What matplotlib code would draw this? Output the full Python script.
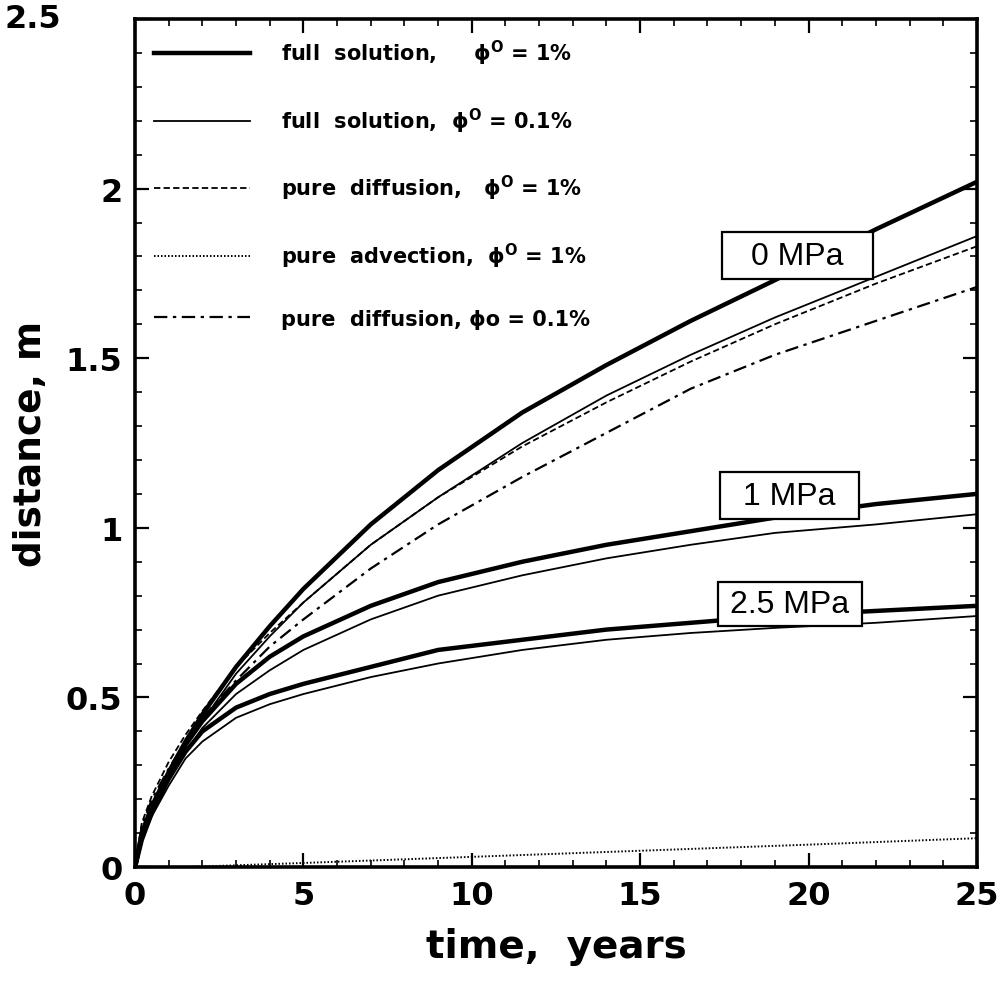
'''
Script used to plot penetration distance against time for several confining pressures
'''
import matplotlib
matplotlib.use('Agg')

import matplotlib.pyplot as plt
from matplotlib.patches import Rectangle
from matplotlib.ticker  import MultipleLocator

# ---------------------------------
# time grid shared by all curves, years
l_time      = [0, 0.2, 0.5, 1, 1.5, 2, 3, 4, 5, 7, 9, 11.5, 14, 16.5, 19, 22, 25]

# full solution, phi = 1%
l_full_0    = [0, 0.10, 0.18, 0.28, 0.37, 0.45, 0.59, 0.71, 0.82, 1.01, 1.17, 1.34, 1.48, 1.61, 1.73, 1.88, 2.02]
l_full_1    = [0, 0.09, 0.17, 0.27, 0.36, 0.43, 0.54, 0.62, 0.68, 0.77, 0.84, 0.90, 0.95, 0.99, 1.03, 1.07, 1.10]
l_full_25   = [0, 0.08, 0.16, 0.26, 0.34, 0.40, 0.47, 0.51, 0.54, 0.59, 0.64, 0.67, 0.70, 0.72, 0.74, 0.755, 0.77]

# full solution, phi = 0.1%
l_thin_0    = [0, 0.09, 0.17, 0.27, 0.36, 0.43, 0.57, 0.68, 0.78, 0.95, 1.09, 1.25, 1.39, 1.51, 1.62, 1.74, 1.86]
l_thin_1    = [0, 0.08, 0.16, 0.26, 0.34, 0.41, 0.51, 0.58, 0.64, 0.73, 0.80, 0.86, 0.91, 0.95, 0.985, 1.01, 1.04]
l_thin_25   = [0, 0.08, 0.15, 0.24, 0.32, 0.37, 0.44, 0.48, 0.51, 0.56, 0.60, 0.64, 0.67, 0.69, 0.705, 0.72, 0.74]

# pure diffusion
l_diff_1    = [0, 0.13, 0.21, 0.31, 0.39, 0.46, 0.59, 0.69, 0.78, 0.95, 1.09, 1.24, 1.37, 1.49, 1.60, 1.72, 1.83]
l_diff_01   = [0, 0.12, 0.20, 0.29, 0.37, 0.44, 0.55, 0.65, 0.73, 0.88, 1.01, 1.15, 1.28, 1.41, 1.51, 1.61, 1.71]

# pure advection
l_adv_time  = [0, 1.5, 5, 10, 15, 20, 25]
l_adv       = [0, 0.0, 0.012, 0.030, 0.048, 0.066, 0.085]

l_labels    = [
    'full  solution,     ϕ$^{\\rm O}$ = 1%',
    'full  solution,  ϕ$^{\\rm O}$ = 0.1%',
    'pure  diffusion,   ϕ$^{\\rm O}$ = 1%',
    'pure  advection,  ϕ$^{\\rm O}$ = 1%',
    'pure  diffusion, ϕo = 0.1%',
]

l_xticks    = [0, 5, 10, 15, 20, 25]
l_yticks    = [0, 0.5, 1, 1.5, 2, 2.5]
l_ytick_lab = ['0', '0.5', '1', '1.5', '2', '']

# pressure label boxes: text, x0, x1, y0, y1
l_boxes     = [
    ('0 MPa',   17.42, 21.90, 1.733, 1.872),
    ('1 MPa',   17.37, 21.50, 1.026, 1.164),
    ('2.5 MPa', 17.31, 21.59, 0.710, 0.840),
]
# ---------------------------------
def _initialize():
    plt.rcParams['font.family'] = ['DejaVu Sans']
    plt.rcParams['mathtext.fontset'] = 'custom'
    plt.rcParams['mathtext.rm'] = 'DejaVu Sans:bold'
# ---------------------------------
def _plot_curves(ax):
    thick = 3.2
    thin  = 1.3

    h_full = ax.plot(l_time, l_full_0,  color='black', lw=thick)[0]
    ax.plot(l_time, l_full_1,  color='black', lw=thick)
    ax.plot(l_time, l_full_25, color='black', lw=thick)

    h_thin = ax.plot(l_time, l_thin_0,  color='black', lw=thin)[0]
    ax.plot(l_time, l_thin_1,  color='black', lw=thin)
    ax.plot(l_time, l_thin_25, color='black', lw=thin)

    h_diff = ax.plot(l_time, l_diff_1,  color='black', lw=1.3, dashes=(3.5, 1.8))[0]
    h_adv  = ax.plot(l_adv_time, l_adv, color='black', lw=1.4, dashes=(0.8, 1.0))[0]
    h_dd   = ax.plot(l_time, l_diff_01, color='black', lw=1.6, dashes=(6, 2.5, 1.5, 2.5))[0]

    return [h_full, h_thin, h_diff, h_adv, h_dd]
# ---------------------------------
def _add_boxes(ax):
    for text, x0, x1, y0, y1 in l_boxes:
        rect = Rectangle((x0, y0), x1 - x0, y1 - y0, facecolor='white',
                         edgecolor='black', lw=1.6, zorder=5)
        ax.add_patch(rect)
        ax.text((x0 + x1) / 2, (y0 + y1) / 2, text, ha='center', va='center',
                fontsize=23, family='Liberation Sans', zorder=6)
# ---------------------------------
def _format_axes(ax):
    ax.set_xlim(0, 25)
    ax.set_ylim(0, 2.5)

    ax.set_xticks(l_xticks, [str(v) for v in l_xticks])
    ax.set_yticks(l_yticks, l_ytick_lab)
    ax.xaxis.set_minor_locator(MultipleLocator(1))
    ax.yaxis.set_minor_locator(MultipleLocator(0.1))

    ax.tick_params(which='both', direction='in', top=True, right=True,
                   labelsize=23, pad=9)
    ax.tick_params(which='major', length=10, width=1.6)
    ax.tick_params(which='minor', length=5, width=1.2)
    for lab in ax.get_xticklabels() + ax.get_yticklabels():
        lab.set_fontweight('bold')

    # top label sits off to the left in the original figure
    ax.text(-0.155, 1.0, '2.5', transform=ax.transAxes, ha='left', va='center',
            fontsize=23, fontweight='bold')

    for spine in ax.spines.values():
        spine.set_linewidth(2.6)

    ax.set_xlabel('time,  years', fontsize=28, fontweight='bold', labelpad=12)
    ax.set_ylabel('distance, m', fontsize=27, fontweight='bold', labelpad=12)
# ---------------------------------
def main():
    '''
    start here
    '''
    _initialize()

    fig = plt.figure(figsize=(10.04, 9.95), dpi=100)
    ax  = fig.add_axes([0.1345, 0.1276, 0.8385, 0.8523])

    l_hand = _plot_curves(ax)
    _add_boxes(ax)
    _format_axes(ax)

    ax.legend(l_hand, l_labels, loc='upper left', frameon=False,
              prop={'weight': 'bold', 'size': 15}, handlelength=4.6,
              handletextpad=1.5, labelspacing=1.85, borderaxespad=0.5)

    fig.savefig('out.png', dpi=100)
    plt.close(fig)
# ---------------------------------
if __name__ == '__main__':
    main()
